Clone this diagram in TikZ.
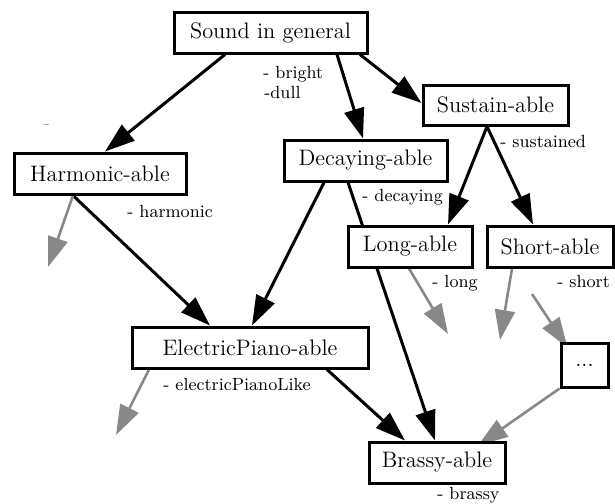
\documentclass[tikz,border=0pt]{standalone}
\usetikzlibrary{arrows.meta,calc,backgrounds}
\definecolor{arrgray}{HTML}{888888}
\tikzset{
  box/.style={draw, line width=1.5pt, fill=white, inner sep=0pt, font=\fontsize{11.2}{13}\selectfont},
  lbl/.style={anchor=base west, inner sep=0pt, font=\fontsize{8.8}{10}\selectfont},
  blackarrow/.style={line width=1.5pt, -{Triangle[length=15pt,width=10pt]}},
  grayarrow/.style={arrgray, line width=1.3pt, -{Triangle[length=15pt,width=10pt]}}
}
\begin{document}
\begin{tikzpicture}[x=0.5pt,y=-0.5pt]
\useasboundingbox (0,0) rectangle (615,503);
% nodes
\node[box, minimum width=96.5pt, minimum height=20.5pt] (sound) at (270.5,32.5) {Sound in general};
\node[box, minimum width=72.5pt, minimum height=20pt] (sustain) at (495.5,105) {Sustain-able};
\node[box, minimum width=86pt, minimum height=20.5pt] (harm) at (100,173.5) {Harmonic-able};
\node[box, minimum width=81.5pt, minimum height=20.5pt] (decay) at (365.5,160.5) {Decaying-able};
\node[box, minimum width=62pt, minimum height=20.5pt] (long) at (410,246.5) {Long-able};
\node[box, minimum width=63pt, minimum height=20.5pt] (short) at (550,246.5) {Short-able};
\node[box, minimum width=118pt, minimum height=20.5pt] (ep) at (250,347.5) {ElectricPiano-able};
\node[box, minimum width=68pt, minimum height=20.5pt] (brassy) at (437,462.5) {Brassy-able};
\node[box, minimum width=23.5pt, minimum height=22pt] (dots) at (584.5,365) {...};
% free ends
\coordinate (g1) at (48,267);
\coordinate (g2) at (116,435);
\coordinate (g3) at (448,334);
\coordinate (g4) at (500,340);
\coordinate (g5) at (532,294);
% labels
\node[lbl] (lb1) at (263,78) {- bright};
\node[lbl] (lb2) at (264,98) {-dull};
\node[lbl] (lb3) at (127,217) {- harmonic};
\node[lbl] (lb4) at (362,201) {- decaying};
\node[lbl] (lb5) at (500,147) {- sustained};
\node[lbl] (lb6) at (432,287) {- long};
\node[lbl] (lb7) at (557,287) {- short};
\node[lbl] (lb8) at (163,390) {- electricPianoLike};
\node[lbl] (lb9) at (437,499) {- brassy};
\begin{pgfonlayer}{background}
\draw[gray!60, line width=0.4pt] (43,124) -- (49,124);
% black arrows
\draw[blackarrow] ($(sound.south)+(-45.5,0)$) -- ($(harm.north)+(5,0)$);
\draw[blackarrow] ($(sound.south)+(66.5,0)$) -- ($(decay.north)+(-2.5,0)$);
\draw[blackarrow] ($(sound.south)+(89.5,0)$) -- ($(sustain.west)+(0,-2)$);
\draw[blackarrow] ($(harm.south)+(-27,0)$) -- ($(ep.north)+(-40,0)$);
\draw[blackarrow] ($(decay.south)+(-41.5,0)$) -- ($(ep.north)+(2,0)$);
\draw[blackarrow] ($(decay.south)+(-17.5,0)$) -- ($(brassy.north)+(-2,0)$);
\draw[blackarrow] ($(sustain.south)+(-8.5,0)$) -- ($(long.north)+(38,0)$);
\draw[blackarrow] ($(sustain.south)+(-8.5,0)$) -- ($(short.north)+(-17,0)$);
\draw[blackarrow] ($(ep.south)+(77,0)$) -- ($(brassy.north)+(-32,0)$);
% gray arrows
\draw[grayarrow] ($(harm.south)+(-27,0)$) -- (g1);
\draw[grayarrow] ($(ep.south)+(-101,0)$) -- (g2);
\draw[grayarrow] ($(long.south)+(-1,0)$) -- (g3);
\draw[grayarrow] ($(short.south)+(-38,0)$) -- (g4);
\draw[grayarrow] (g5) -- ($(dots.north)+(-17,6)$);
\draw[grayarrow] (dots.south west) -- ($(brassy.north)+(41,5)$);
\end{pgfonlayer}
\end{tikzpicture}
\end{document}
